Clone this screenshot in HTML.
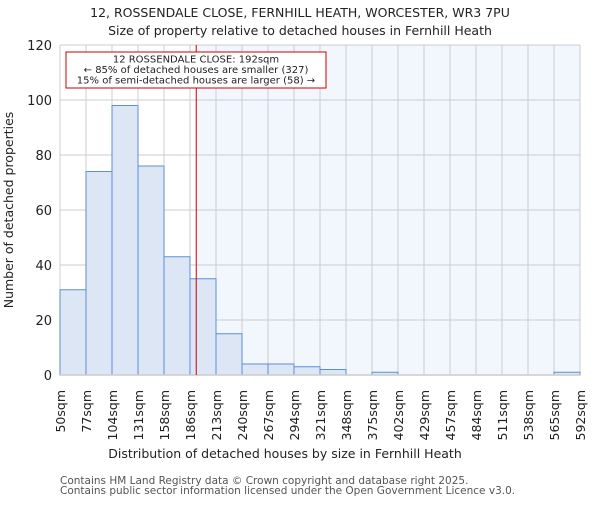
<!DOCTYPE html>
<html><head><meta charset="utf-8"><style>
body{margin:0;background:#fff}
svg{font-family:"DejaVu Sans","Liberation Sans",sans-serif}
</style></head><body>
<svg id="chart" width="600" height="500" xmlns="http://www.w3.org/2000/svg">
<text x="300" y="17" text-anchor="middle" font-size="12.5" fill="#222">12, ROSSENDALE CLOSE, FERNHILL HEATH, WORCESTER, WR3 7PU</text>
<text x="300" y="35" text-anchor="middle" font-size="12.5" fill="#222">Size of property relative to detached houses in Fernhill Heath</text>
<g id="plot"></g>
<text x="285" y="458" text-anchor="middle" font-size="12.5" fill="#222">Distribution of detached houses by size in Fernhill Heath</text>
<text transform="translate(13,210) rotate(-90)" text-anchor="middle" font-size="12.5" fill="#222">Number of detached properties</text>
<text x="60" y="484" font-size="10.5" fill="#555">Contains HM Land Registry data © Crown copyright and database right 2025.</text>
<text x="60" y="494" font-size="10.5" fill="#555">Contains public sector information licensed under the Open Government Licence v3.0.</text>
</svg>
<script>
const binLabels=["50sqm","77sqm","104sqm","131sqm","158sqm","186sqm","213sqm","240sqm","267sqm","294sqm","321sqm","348sqm","375sqm","402sqm","429sqm","457sqm","484sqm","511sqm","538sqm","565sqm","592sqm"];
const counts=[31,74,98,76,43,35,15,4,4,3,2,0,1,0,0,0,0,0,0,1];
const yTicks=[0,20,40,60,80,100,120];
const propertySize=192;
const xMin=50,xMax=592;
const annotation=["12 ROSSENDALE CLOSE: 192sqm","← 85% of detached houses are smaller (327)","15% of semi-detached houses are larger (58) →"];
const NS="http://www.w3.org/2000/svg";
const L=60,R=580,T=45,B=375;
const n=counts.length;
const bx=i=>L+(R-L)*i/n;
const y=v=>B-(B-T)*v/120;
const xs=v=>L+(R-L)*(v-xMin)/(xMax-xMin);
const g=document.getElementById('plot');
function mk(t,a){const e=document.createElementNS(NS,t);for(const k in a)e.setAttribute(k,a[k]);g.appendChild(e);return e;}
const px=xs(propertySize);
let e=mk('rect',{x:px,y:T,width:R-px,height:B-T,fill:'#f2f6fd'});


yTicks.forEach(t=>{
 let l=mk('line',{x1:L,x2:R,y1:y(t),y2:y(t),stroke:'#ccc','stroke-width':1});
 
 
 let tx=mk('text',{x:L-8,y:y(t)+5,'text-anchor':'end','font-size':13,fill:'#222'});
 tx.textContent=t;
 
 
});
binLabels.forEach((s,i)=>{
 let l=mk('line',{x1:bx(i),x2:bx(i),y1:T,y2:B,stroke:'#ccc','stroke-width':1});
 
 
 let tx=mk('text',{transform:`translate(${bx(i)+5},390) rotate(-90)`,'text-anchor':'end','font-size':12.5,fill:'#222'});
 tx.textContent=s;
 
 
});
counts.forEach((c,i)=>{
 if(c<=0)return;
 let r=mk('rect',{x:bx(i),y:y(c),width:bx(i+1)-bx(i),height:B-y(c),fill:'#dce6f4',stroke:'#5b8fd6','stroke-width':1});
 
 
});
let ax=mk('line',{x1:L,x2:R,y1:B,y2:B,stroke:'#ccc','stroke-width':1.5});


let pl=mk('line',{x1:px,x2:px,y1:T,y2:B,stroke:'#cc0000','stroke-width':1});


let box=mk('rect',{x:66,y:52,width:260,height:36,fill:'#fff',stroke:'#cc0000','stroke-width':1});


annotation.forEach((s,i)=>{
 let t=mk('text',{x:196,y:62.5+i*10.5,'text-anchor':'middle','font-size':10,fill:'#222'});
 t.textContent=s;
 
 
});
</script>
</body></html>
